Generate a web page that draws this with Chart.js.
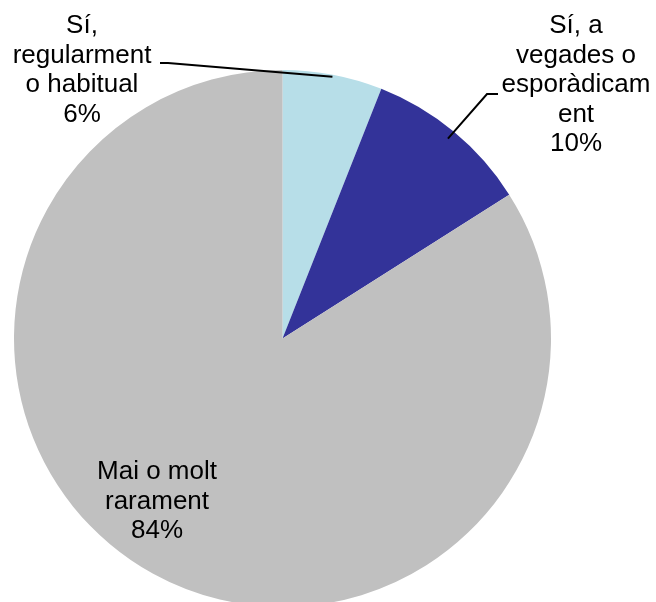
<!DOCTYPE html>
<html>
<head>
<meta charset="utf-8">
<script src="https://cdn.jsdelivr.net/npm/chart.js@4"></script>
<style>
    html, body { margin: 0; padding: 0; background: #fff; overflow: hidden; }
    #wrap { width: 656px; height: 640px; }
</style>
</head>
<body>
<div id="wrap"><canvas id="chart-pie"></canvas></div>
<script>
// Slices, clockwise from 12 o'clock
const categories = ['Sí, regularment o habitual', 'Sí, a vegades o esporàdicament', 'Mai o molt rarament'];
const values = [6, 10, 84];
// Label text as wrapped in the original
const labelLines = [
    ['Sí,', 'regularment', 'o habitual', '6%'],
    ['Sí, a', 'vegades o', 'esporàdicam', 'ent', '10%'],
    ['Mai o molt', 'rarament', '84%']
];

const colors = ['#B7DEE8', '#333399', '#C0C0C0'];
// label placement: centre x, first baseline y, leader start, inset of leader end from the rim
const labelPos = [
    { x: 82, y: 33, leader: [[160, 63], [168, 63]], inset: 2 },
    { x: 576, y: 33, leader: [[498, 94], [487, 94]], inset: 9 },
    { x: 157, y: 479, leader: null }
];
const lineHeight = 29.5;

const labelPlugin = {
    id: 'pieLabels',
    afterDraw(chart) {
        const ctx = chart.ctx;
        const arcs = chart.getDatasetMeta(0).data;
        ctx.save();
        ctx.font = '26px "Liberation Sans", Arial, sans-serif';
        ctx.fillStyle = '#000';
        ctx.textAlign = 'center';
        ctx.textBaseline = 'alphabetic';
        labelLines.forEach((lines, i) => {
            const p = labelPos[i];
            lines.forEach((t, j) => ctx.fillText(t, p.x, p.y + j * lineHeight));
            if (p.leader) {
                const a = arcs[i];
                const mid = (a.startAngle + a.endAngle) / 2;
                const r = a.outerRadius - p.inset;
                ctx.beginPath();
                ctx.moveTo(p.leader[0][0], p.leader[0][1]);
                ctx.lineTo(p.leader[1][0], p.leader[1][1]);
                ctx.lineTo(a.x + Math.cos(mid) * r, a.y + Math.sin(mid) * r);
                ctx.strokeStyle = '#000';
                ctx.lineWidth = 2;
                ctx.stroke();
            }
        });
        ctx.restore();
    }
};

new Chart(document.getElementById('chart-pie'), {
    type: 'pie',
    data: {
        labels: categories,
        datasets: [{
            data: values,
            backgroundColor: colors,
            borderWidth: 0
        }]
    },
    options: {
        responsive: true,
        maintainAspectRatio: false,
        animation: false,
        layout: { padding: { top: 70, left: 14, right: 105, bottom: 33 } },
        plugins: {
            legend: { display: false },
            tooltip: { enabled: false }
        }
    },
    plugins: [labelPlugin]
});
</script>
</body>
</html>
